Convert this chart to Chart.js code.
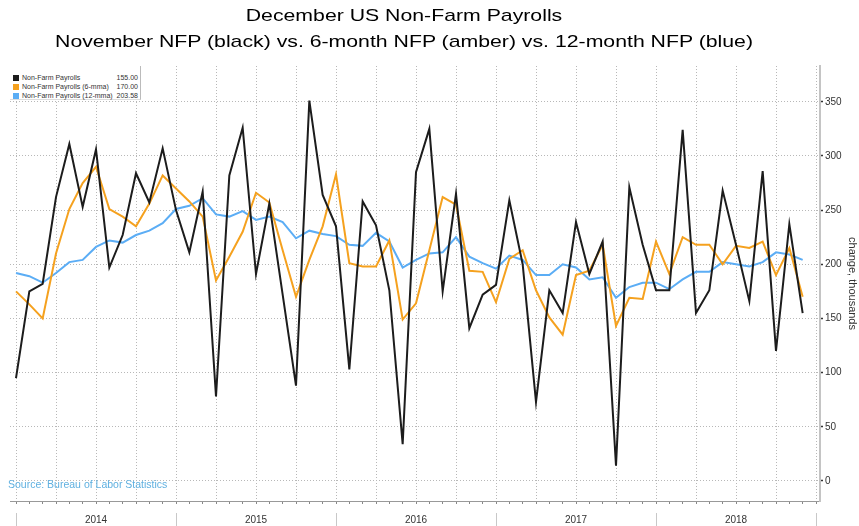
<!DOCTYPE html>
<html>
<head>
<meta charset="utf-8">
<script src="https://cdn.jsdelivr.net/npm/chart.js@4.4.1/dist/chart.umd.min.js"></script>
<style>
  html, body { margin: 0; padding: 0; background: #fff; }
  #wrap { position: relative; width: 859px; height: 526px; overflow: hidden; }
  #chart { position: absolute; left: 0; top: 0; }
  #title { position: absolute; left: 0; top: 3px; width: 808px; text-align: center;
           font-family: "Liberation Sans", Arial, sans-serif; font-size: 17px; line-height: 26px;
           color: #000; transform: scaleX(1.25); transform-origin: 404px 0; white-space: nowrap; }
  #legend { position: absolute; left: 10px; top: 66px; width: 130px; height: 33px; background: #fff;
            border-right: 1px solid #bbb; border-bottom: 1px solid #ddd;
            font-family: "Liberation Sans", Arial, sans-serif; font-size: 7px; color: #333; }
  #legend .row { position: absolute; left: 0; width: 130px; height: 9px; line-height: 9px; }
  #legend .sw { position: absolute; left: 3px; top: 1.5px; width: 6px; height: 6px; }
  #legend .lbl { position: absolute; left: 12px; top: 0; white-space: nowrap; }
  #legend .val { position: absolute; right: 2px; top: 0; }
  #source { position: absolute; left: 8px; top: 478px; font-family: "Liberation Sans", Arial, sans-serif;
            font-size: 10.5px; color: #5fb0e0; white-space: nowrap; }
</style>
</head>
<body>
<div id="wrap">
  <canvas id="chart" width="859" height="526"></canvas>
  <div id="title">December US Non-Farm Payrolls<br>November NFP (black) vs. 6-month NFP (amber) vs. 12-month NFP (blue)</div>
  <div id="legend"></div>
  <div id="source">Source: Bureau of Labor Statistics</div>
</div>
<script>
// monthly points, Dec 2013 .. Nov 2018
const years = ['2014', '2015', '2016', '2017', '2018'];
const yTicks = [0, 50, 100, 150, 200, 250, 300, 350];

const nfp = [95, 175, 182, 262, 311, 253, 306, 197, 227, 284, 257, 307,
             250, 211, 267, 78, 282, 326, 191, 256, 172, 88, 351, 264,
             235, 103, 258, 236, 176, 34, 285, 325, 175, 265, 141, 172,
             181, 259, 200, 73, 176, 155, 239, 191, 221, 14, 271, 218,
             176, 176, 324, 155, 176, 268, 218, 166, 286, 120, 237, 155];

const nfp6 = [175, 163, 150, 210, 251, 275, 290, 251, 244, 235, 256, 282,
              270, 258, 244, 185, 207, 230, 266, 257, 213, 170, 204, 235,
              283, 201, 198, 198, 222, 149, 164, 213, 262, 255, 194, 193,
              165, 205, 213, 176, 151, 135, 190, 194, 218, 143, 169, 168,
              221, 191, 225, 218, 218, 200, 217, 215, 221, 190, 215, 170];

const nfp12 = [192, 189, 183, 192, 202, 204, 216, 222, 220, 227, 231, 238,
               251, 254, 261, 246, 244, 249, 241, 244, 239, 224, 231, 228,
               226, 218, 217, 229, 221, 197, 204, 210, 211, 225, 207, 201,
               196, 208, 204, 190, 190, 200, 197, 186, 188, 169, 179, 183,
               183, 177, 186, 193, 193, 202, 200, 198, 202, 211, 209, 204];

const seriesNames = ['Non-Farm Payrolls', 'Non-Farm Payrolls (6-mma)', 'Non-Farm Payrolls (12-mma)'];
const lastValues = ['155.00', '170.00', '203.58'];
const colors = ['#1c1c1c', '#f5a11e', '#5badf5'];

// legend box
const leg = document.getElementById('legend');
seriesNames.forEach((name, i) => {
  const row = document.createElement('div');
  row.className = 'row';
  row.style.top = (7 + i * 9) + 'px';
  row.innerHTML = '<span class="sw" style="background:' + colors[i] + '"></span>' +
                  '<span class="lbl">' + name + '</span><span class="val">' + lastValues[i] + '</span>';
  leg.appendChild(row);
});

const pts = arr => arr.map((v, i) => ({ x: i, y: v }));
const stepTicks = (from, to, step) => { const t = []; for (let v = from; v <= to; v += step) t.push({ value: v }); return t; };

const xMin = -0.45, xMax = 60.3;
const dots = '#b8b8b8';

new Chart(document.getElementById('chart'), {
  type: 'line',
  data: {
    datasets: [
      { label: seriesNames[0], data: pts(nfp), borderColor: colors[0], borderWidth: 2 },
      { label: seriesNames[1], data: pts(nfp6), borderColor: colors[1], borderWidth: 2 },
      { label: seriesNames[2], data: pts(nfp12), borderColor: colors[2], borderWidth: 2 }
    ]
  },
  options: {
    responsive: false,
    animation: false,
    layout: { padding: { left: 10, top: 66, right: 0, bottom: 0 } },
    elements: { point: { radius: 0 }, line: { tension: 0 } },
    plugins: { legend: { display: false }, title: { display: false }, tooltip: { enabled: false } },
    scales: {
      x: {
        type: 'linear', position: 'bottom', weight: 0, min: xMin, max: xMax,
        afterBuildTicks: s => { s.ticks = stepTicks(0, 60, 3); },
        afterFit: s => { s.height = 0; },
        ticks: { display: false },
        grid: { color: dots, drawTicks: false },
        border: { color: '#999', width: 1, dash: [1, 2] }
      },
      xMonths: {
        type: 'linear', position: 'bottom', weight: 1, min: xMin, max: xMax,
        afterBuildTicks: s => { s.ticks = stepTicks(0, 60, 1); },
        afterFit: s => { s.height = 12; },
        ticks: { display: false },
        grid: { drawOnChartArea: false, tickLength: 3, color: '#888' },
        border: { display: false }
      },
      xYears: {
        type: 'linear', position: 'bottom', weight: 2, min: xMin, max: xMax,
        afterBuildTicks: s => { s.ticks = stepTicks(0, 60, 6); },
        afterFit: s => { s.height = 13; },
        ticks: {
          autoSkip: false, maxRotation: 0, padding: -12, color: '#333',
          font: { family: '"Liberation Sans", Arial, sans-serif', size: 10 },
          callback: v => (v % 12 === 6 ? years[(v - 6) / 12] : '')
        },
        grid: {
          drawOnChartArea: false, tickLength: 13,
          color: c => (c.tick && c.tick.value % 12 === 0 ? '#c8c8c8' : 'rgba(0,0,0,0)')
        },
        border: { display: false }
      },
      y: {
        position: 'right', min: -18.5, max: 383,
        afterBuildTicks: s => { s.ticks = yTicks.map(v => ({ value: v })); },
        afterFit: s => { s.width = 39; },
        ticks: { color: '#333', padding: 2, font: { family: '"Liberation Sans", Arial, sans-serif', size: 10 } },
        grid: { color: dots, tickColor: '#333', tickLength: 3, tickWidth: 1.5 },
        border: { color: '#c4c4c4', width: 2, dash: [1, 2] },
        title: {
          display: true, text: 'change, thousands', color: '#333', padding: 0,
          font: { family: '"Liberation Sans", Arial, sans-serif', size: 11 }
        }
      }
    }
  }
});
</script>
</body>
</html>
